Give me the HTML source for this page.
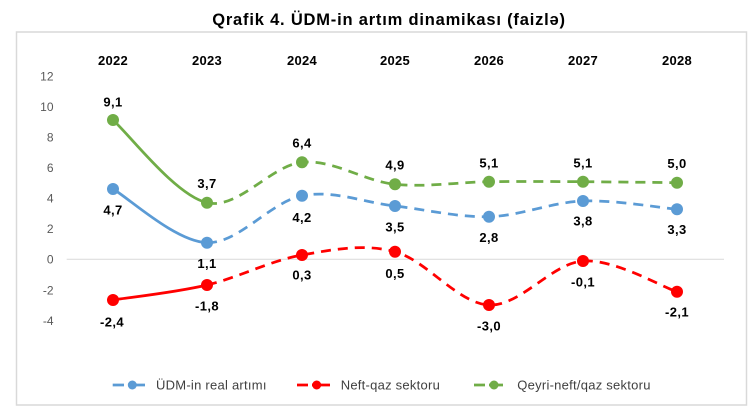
<!DOCTYPE html>
<html>
<head>
<meta charset="utf-8">
<style>
  html,body{margin:0;padding:0;background:#fff;}
  body{width:756px;height:409px;overflow:hidden;}
  svg{display:block;}
  .t{font-family:"Liberation Sans",Arial,sans-serif;}
  .yr{font-family:"Liberation Sans",Arial,sans-serif;font-weight:bold;font-size:13px;fill:#000;letter-spacing:0.3px;}
  .dl{font-family:"Liberation Sans",Arial,sans-serif;font-weight:bold;font-size:13px;fill:#000;letter-spacing:0.4px;}
  .tk{font-family:"Liberation Sans",Arial,sans-serif;font-size:12px;fill:#595959;}
  .lg{font-family:"Liberation Sans",Arial,sans-serif;font-size:13px;fill:#404040;letter-spacing:0.25px;}
</style>
</head>
<body>
<svg width="756" height="409" viewBox="0 0 756 409" xmlns="http://www.w3.org/2000/svg">
  <rect x="0" y="0" width="756" height="409" fill="#fff"/>
  <!-- title -->
  <text class="t" x="389" y="25" text-anchor="middle" font-size="16.5" font-weight="bold" letter-spacing="0.8" fill="#000">Qrafik 4. ÜDM-in artım dinamikası (faizlə)</text>
  <!-- chart box -->
  <rect x="16.5" y="32" width="730" height="373" fill="#fff" stroke="#d9d9d9" stroke-width="1.5"/>

  <!-- year labels -->
  <g class="yr" text-anchor="middle">
    <text x="113" y="65">2022</text>
    <text x="207" y="65">2023</text>
    <text x="302" y="65">2024</text>
    <text x="395" y="65">2025</text>
    <text x="489" y="65">2026</text>
    <text x="583" y="65">2027</text>
    <text x="677" y="65">2028</text>
  </g>

  <!-- y ticks -->
  <g class="tk" text-anchor="end">
    <text x="53.5" y="80.5">12</text>
    <text x="53.5" y="111">10</text>
    <text x="53.5" y="141.5">8</text>
    <text x="53.5" y="172">6</text>
    <text x="53.5" y="202.5">4</text>
    <text x="53.5" y="233">2</text>
    <text x="53.5" y="263.6">0</text>
    <text x="53.5" y="294.5">-2</text>
    <text x="53.5" y="325">-4</text>
  </g>

  <!-- zero line -->
  <line x1="66.7" y1="259.3" x2="724" y2="259.3" stroke="#d9d9d9" stroke-width="1"/>

  <!-- Blue series -->
  <g fill="none" stroke="#5b9bd5" stroke-width="2.75" stroke-linecap="butt">
    <path d="M113,189 C128.7,197.95 175.5,241.6 207,242.7"/>
    <path stroke-dasharray="10 7" d="M207,242.7 C238.5,243.8 270.7,201.8 302,195.7 C333.3,189.6 363.8,202.5 395,206 C426.2,209.5 457.7,217.5 489,216.7 C520.3,215.9 551.7,202.2 583,201 C614.3,199.8 661.3,207.9 677,209.3"/>
  </g>
  <!-- Red series -->
  <g fill="none" stroke="#ff0000" stroke-width="2.75" stroke-linecap="butt">
    <path d="M113,300 C128.7,297.5 175.5,292.5 207,285"/>
    <path stroke-dasharray="10 7" d="M207,285 C238.5,277.5 270.7,260.55 302,255 C333.3,249.45 363.8,243.4 395,251.7 C426.2,260 457.7,303.45 489,305 C520.3,306.55 551.7,263.2 583,261 C614.3,258.8 661.3,286.6 677,291.7"/>
  </g>
  <!-- Green series -->
  <g fill="none" stroke="#70ad47" stroke-width="2.75" stroke-linecap="butt">
    <path d="M113,120 C128.7,133.8 175.5,195.6 207,202.7"/>
    <path stroke-dasharray="10 7" d="M207,202.7 C238.5,209.75 270.7,165.4 302,162.3 C333.3,159.2 363.8,181.1 395,184.3 C426.2,187.5 457.7,182.1 489,181.7 C520.3,181.3 551.7,181.5 583,181.7 C614.3,181.9 661.3,182.5 677,182.7"/>
  </g>

  <!-- markers -->
  <g fill="#5b9bd5">
    <circle cx="113" cy="189" r="6"/>
    <circle cx="207" cy="242.7" r="6"/>
    <circle cx="302" cy="195.7" r="6"/>
    <circle cx="395" cy="206" r="6"/>
    <circle cx="489" cy="216.7" r="6"/>
    <circle cx="583" cy="201" r="6"/>
    <circle cx="677" cy="209.3" r="6"/>
  </g>
  <g fill="#ff0000">
    <circle cx="113" cy="300" r="6"/>
    <circle cx="207" cy="285" r="6"/>
    <circle cx="302" cy="255" r="6"/>
    <circle cx="395" cy="251.7" r="6"/>
    <circle cx="489" cy="305" r="6"/>
    <circle cx="583" cy="261" r="6"/>
    <circle cx="677" cy="291.7" r="6"/>
  </g>
  <g fill="#70ad47">
    <circle cx="113" cy="120" r="6"/>
    <circle cx="207" cy="202.7" r="6"/>
    <circle cx="302" cy="162.3" r="6"/>
    <circle cx="395" cy="184.3" r="6"/>
    <circle cx="489" cy="181.7" r="6"/>
    <circle cx="583" cy="181.7" r="6"/>
    <circle cx="677" cy="182.7" r="6"/>
  </g>

  <!-- data labels -->
  <g class="dl" text-anchor="middle">
    <!-- green -->
    <text x="113" y="106.3">9,1</text>
    <text x="207" y="188">3,7</text>
    <text x="302" y="147.3">6,4</text>
    <text x="395" y="169.6">4,9</text>
    <text x="489" y="167.3">5,1</text>
    <text x="583" y="167.3">5,1</text>
    <text x="677" y="168">5,0</text>
    <!-- blue -->
    <text x="113" y="214.6">4,7</text>
    <text x="207" y="268">1,1</text>
    <text x="302" y="222">4,2</text>
    <text x="395" y="231.3">3,5</text>
    <text x="489" y="242">2,8</text>
    <text x="583" y="225.3">3,8</text>
    <text x="677" y="234">3,3</text>
    <!-- red -->
    <text x="112" y="326.3">-2,4</text>
    <text x="207" y="310.6">-1,8</text>
    <text x="302" y="279.6">0,3</text>
    <text x="395" y="278">0,5</text>
    <text x="489" y="330.6">-3,0</text>
    <text x="583" y="286.3">-0,1</text>
    <text x="677" y="316.3">-2,1</text>
  </g>

  <!-- legend -->
  <g stroke-width="2.75">
    <line x1="112.7" y1="385" x2="124" y2="385" stroke="#5b9bd5"/>
    <line x1="128" y1="385" x2="145" y2="385" stroke="#5b9bd5"/>
    <circle cx="132.3" cy="385" r="4.5" fill="#5b9bd5" stroke="none"/>
    <line x1="297" y1="385" x2="308" y2="385" stroke="#ff0000"/>
    <line x1="312" y1="385" x2="330" y2="385" stroke="#ff0000"/>
    <circle cx="316.7" cy="385" r="4.5" fill="#ff0000" stroke="none"/>
    <line x1="474" y1="385" x2="485" y2="385" stroke="#70ad47"/>
    <line x1="489" y1="385" x2="503" y2="385" stroke="#70ad47"/>
    <circle cx="494" cy="385" r="4.5" fill="#70ad47" stroke="none"/>
  </g>
  <g class="lg">
    <text x="156" y="389.5">ÜDM-in real artımı</text>
    <text x="340.7" y="389.5">Neft-qaz sektoru</text>
    <text x="517.3" y="389.5">Qeyri-neft/qaz sektoru</text>
  </g>
</svg>
</body>
</html>
